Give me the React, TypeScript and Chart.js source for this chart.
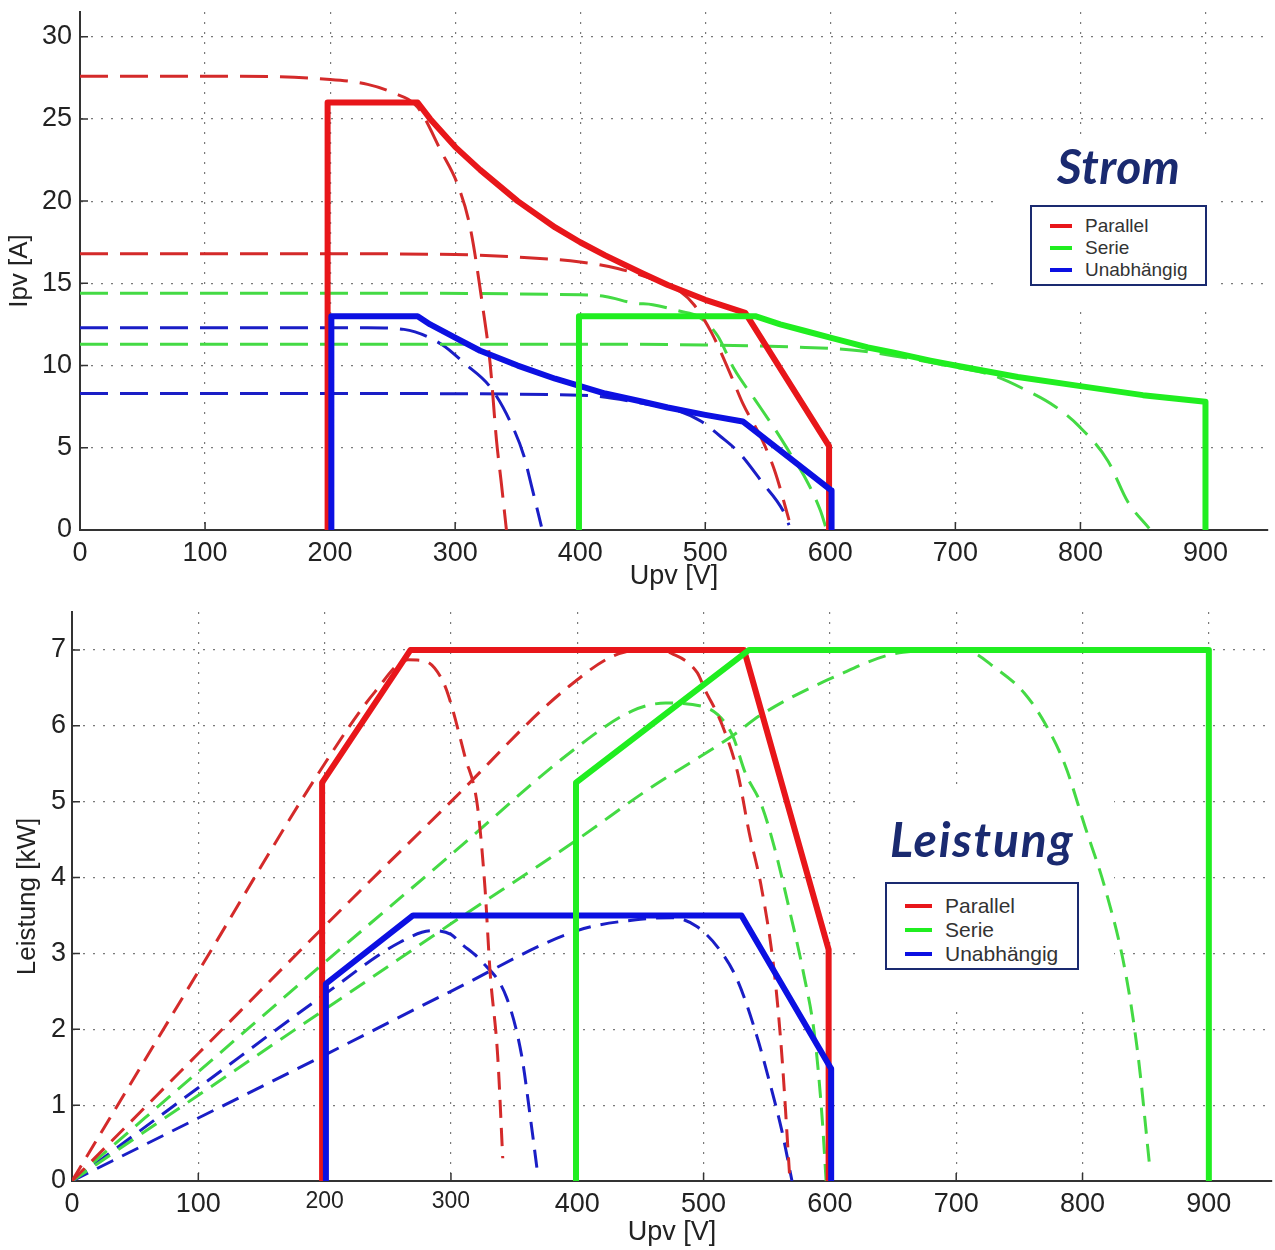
import React, { useEffect, useRef } from 'react';
import { Chart, registerables } from 'chart.js';

Chart.register(...registerables);

// ---------------- Upper chart: current Ipv [A] over Upv [V] ----------------
const curParallelU = [198, 198, 270, 280, 300, 320, 350, 380, 400, 420, 450, 470, 500, 532, 599, 599];
const curParallelI = [0, 26, 26, 25.0, 23.3, 21.9, 20.0, 18.4, 17.5, 16.7, 15.6, 14.9, 14.0, 13.2, 5.1, 0];
const curSerieU = [399, 399, 540, 560, 580, 600, 630, 650, 680, 700, 750, 800, 850, 900, 900];
const curSerieI = [0, 13, 13, 12.5, 12.1, 11.7, 11.1, 10.8, 10.3, 10.0, 9.3, 8.75, 8.2, 7.8, 0];
const curUnabhU = [201, 201, 270, 280, 300, 320, 350, 380, 400, 420, 450, 470, 500, 530, 601, 601];
const curUnabhI = [0, 13, 13, 12.5, 11.7, 10.9, 10.0, 9.2, 8.75, 8.3, 7.8, 7.45, 7.0, 6.6, 2.4, 0];

const ivRed1U = [0, 100, 200, 230, 250, 270, 289, 302, 312, 322, 328, 333, 337, 341];
const ivRed1I = [27.6, 27.6, 27.4, 27.1, 26.6, 25.7, 23.0, 21.0, 18.4, 13.6, 10.1, 5.5, 2.8, 0];
const ivRed2U = [0, 200, 300, 350, 400, 430, 460, 480, 491, 505, 520, 530, 546, 556, 567];
const ivRed2I = [16.8, 16.8, 16.75, 16.6, 16.3, 15.9, 15.2, 14.5, 13.7, 12.0, 9.5, 7.7, 5.4, 3.5, 0.6];
const ivGreen1U = [0, 200, 400, 420, 443, 458, 480, 494, 510, 523, 540, 556, 570, 579, 592, 597];
const ivGreen1I = [14.4, 14.4, 14.3, 14.2, 13.8, 13.7, 13.3, 13.0, 11.8, 9.8, 7.9, 6.1, 4.4, 3.3, 1.2, 0];
const ivGreen2U = [0, 200, 400, 500, 580, 617, 650, 700, 730, 754, 780, 799, 822, 838, 855];
const ivGreen2I = [11.3, 11.3, 11.3, 11.25, 11.1, 10.95, 10.6, 9.9, 9.4, 8.6, 7.5, 6.3, 4.2, 1.7, 0.1];
const ivBlue1U = [0, 200, 230, 259, 289, 308, 328, 344, 355, 361, 369];
const ivBlue1I = [12.3, 12.3, 12.3, 12.2, 11.3, 10.1, 8.7, 6.6, 4.5, 2.7, 0.2];
const ivBlue2U = [0, 200, 400, 450, 480, 497, 512, 527, 546, 562, 567];
const ivBlue2I = [8.3, 8.3, 8.2, 7.7, 7.2, 6.6, 5.7, 4.7, 2.85, 1.2, 0.3];

// ---------------- Lower chart: power Leistung [kW] over Upv [V] ----------------
const powParallelU = [198, 198, 268, 532, 599, 599];
const powParallelP = [0, 5.25, 7.0, 7.0, 3.05, 0];
const powSerieU = [399, 399, 536, 900, 900];
const powSerieP = [0, 5.25, 7.0, 7.0, 0];
const powUnabhU = [201, 201, 270, 530, 601, 601];
const powUnabhP = [0, 2.6, 3.5, 3.5, 1.48, 0];

const pvRed1U = [0, 100, 200, 240, 266, 280, 292, 298, 311, 321, 327, 331, 337, 341];
const pvRed1P = [0, 2.76, 5.5, 6.45, 6.87, 6.85, 6.64, 6.4, 5.6, 4.94, 3.85, 2.75, 1.65, 0.3];
const pvRed2U = [0, 100, 200, 300, 392, 437, 460, 475, 495, 501, 514, 527, 536, 546, 556, 562, 568];
const pvRed2P = [0, 1.68, 3.36, 5.0, 6.5, 6.97, 7.0, 6.95, 6.7, 6.48, 6.04, 5.38, 4.6, 3.85, 2.75, 1.65, 0.1];
const pvGreen1U = [0, 100, 200, 300, 400, 444, 470, 498, 511, 523, 533, 546, 556, 569, 579, 588, 594, 597];
const pvGreen1P = [0, 1.44, 2.88, 4.3, 5.72, 6.2, 6.3, 6.26, 6.15, 5.87, 5.38, 4.95, 4.4, 3.5, 2.75, 1.9, 0.8, 0];
const pvGreen2U = [0, 100, 200, 300, 400, 456, 523, 546, 603, 658, 706, 732, 754, 770, 786, 802, 818, 834, 844, 853];
const pvGreen2P = [0, 1.13, 2.26, 3.39, 4.5, 5.16, 5.87, 6.15, 6.64, 6.97, 7.0, 6.75, 6.43, 6.04, 5.49, 4.67, 3.85, 2.75, 1.65, 0.22];
const pvBlue1U = [0, 100, 200, 260, 285, 300, 308, 324, 344, 356, 363, 369];
const pvBlue1P = [0, 1.23, 2.46, 3.15, 3.3, 3.25, 3.13, 2.9, 2.42, 1.65, 0.82, 0.05];
const pvBlue2U = [0, 100, 200, 300, 400, 450, 475, 495, 514, 527, 542, 552, 562, 570];
const pvBlue2P = [0, 0.83, 1.66, 2.5, 3.3, 3.45, 3.47, 3.35, 3.02, 2.64, 1.92, 1.32, 0.66, 0];

const legendLabels = ['Parallel', 'Serie', 'Unabhängig'];

// ---------------- styles ----------------
const RED = '#e8161a';
const GREEN = '#20ee20';
const BLUE = '#0c10e2';
const RED_D = '#d42a2a';
const GREEN_D = '#44da44';
const BLUE_D = '#1a1ec6';
const NAVY = '#1a2a70';
const FONT = '"Liberation Sans", Arial, sans-serif';

const pts = (xs: number[], ys: number[]) => xs.map((x, i) => ({ x, y: ys[i] }));

const solid = (xs: number[], ys: number[], color: string) => ({
  data: pts(xs, ys),
  borderColor: color,
  borderWidth: 6,
  pointRadius: 0,
  tension: 0,
  borderJoinStyle: 'round' as const,
  fill: false,
});
const dashed = (xs: number[], ys: number[], color: string, dash: number[]) => ({
  data: pts(xs, ys),
  borderColor: color,
  borderWidth: 3,
  borderDash: dash,
  pointRadius: 0,
  cubicInterpolationMode: 'monotone' as const,
  fill: false,
});

const whiteBoxPlugin = {
  id: 'whiteBox',
  beforeDatasetsDraw(chart: any, _args: any, opts: any) {
    if (!opts || !opts.rect) return;
    const { ctx } = chart;
    const [x, y, w, h] = opts.rect;
    ctx.save();
    ctx.fillStyle = '#ffffff';
    ctx.fillRect(x, y, w, h);
    // inner tick marks
    const xs = chart.scales.x;
    const ys = chart.scales.y;
    ctx.strokeStyle = '#333';
    ctx.lineWidth = 1.5;
    ctx.beginPath();
    xs.ticks.forEach((t: any) => {
      const px = xs.getPixelForValue(t.value);
      ctx.moveTo(px, xs.top);
      ctx.lineTo(px, xs.top - 8);
    });
    ys.ticks.forEach((t: any) => {
      const py = ys.getPixelForValue(t.value);
      ctx.moveTo(ys.right, py);
      ctx.lineTo(ys.right + 8, py);
    });
    ctx.stroke();
    ctx.restore();
  },
};

type ChartProps = {
  width: number;
  height: number;
  datasets: any[];
  yMax: number;
  yStep: number;
  yTitle: string;
  yAxisWidth: number;
  xAxisHeight: number;
  padTop: number;
  padRight: number;
  yTitlePad: number;
  xTitlePad: number;
  xTickPad: number;
  yTickPad: number;
  smallXTicks: number[];
  box: number[];
};

function PvChart(p: ChartProps) {
  const ref = useRef<HTMLCanvasElement | null>(null);
  useEffect(() => {
    if (!ref.current) return;
    const tickFont = { family: FONT, size: 27 };
    const chart = new Chart(ref.current, {
      type: 'line',
      data: { datasets: p.datasets },
      plugins: [whiteBoxPlugin],
      options: {
        animation: false,
        responsive: false,
        devicePixelRatio: 1,
        layout: { padding: { top: p.padTop, right: p.padRight, left: 0, bottom: 0 } },
        plugins: {
          legend: { display: false },
          tooltip: { enabled: false },
          whiteBox: { rect: p.box },
        } as any,
        scales: {
          x: {
            type: 'linear',
            min: 0,
            max: 950,
            afterFit: (s: any) => {
              s.height = p.xAxisHeight;
              s.paddingLeft = 0;
              s.paddingRight = 0;
            },
            ticks: {
              stepSize: 100,
              includeBounds: false,
              autoSkip: false,
              maxRotation: 0,
              padding: p.xTickPad,
              color: '#222',
              font: (ctx: any) => ({
                family: FONT,
                size: ctx.tick && p.smallXTicks.includes(ctx.tick.value) ? 23 : 27,
              }),
            },
            grid: { color: '#7a7a7a', lineWidth: 1.2, drawTicks: false },
            border: { display: true, color: '#333', width: 2, dash: [2, 8] },
            title: {
              display: true,
              text: 'Upv [V]',
              color: '#222',
              font: { family: FONT, size: 27 },
              padding: { top: 0, bottom: p.xTitlePad },
            },
          },
          y: {
            type: 'linear',
            min: 0,
            max: p.yMax,
            afterFit: (s: any) => {
              s.width = p.yAxisWidth;
              s.paddingTop = 0;
              s.paddingBottom = 0;
            },
            ticks: {
              stepSize: p.yStep,
              includeBounds: false,
              padding: p.yTickPad,
              color: '#222',
              font: tickFont,
            },
            grid: { color: '#7a7a7a', lineWidth: 1.2, drawTicks: false },
            border: { display: true, color: '#333', width: 2, dash: [2, 8] },
            title: {
              display: true,
              text: p.yTitle,
              color: '#222',
              font: { family: FONT, size: 26 },
              padding: { top: p.yTitlePad, bottom: 0 },
            },
          },
        },
      },
    } as any);
    return () => chart.destroy();
  }, []);
  return (
    <canvas
      ref={ref}
      width={p.width}
      height={p.height}
      style={{ width: p.width, height: p.height, display: 'block' }}
    />
  );
}

function Legend(props: {
  left: number;
  top: number;
  width: number;
  height: number;
  fontSize: number;
  rowH: number;
  padTop: number;
  sampleW: number;
}) {
  const colors = [RED, GREEN, BLUE];
  return (
    <div
      style={{
        position: 'absolute',
        left: props.left,
        top: props.top,
        width: props.width,
        height: props.height,
        border: `2px solid ${NAVY}`,
        boxSizing: 'border-box',
        background: '#fff',
        paddingTop: props.padTop,
        paddingLeft: 18,
        fontFamily: FONT,
        fontSize: props.fontSize,
        color: '#333',
      }}
    >
      {legendLabels.map((lab, i) => (
        <div
          key={lab}
          style={{ display: 'flex', alignItems: 'center', height: props.rowH, lineHeight: `${props.rowH}px` }}
        >
          <span
            style={{
              display: 'inline-block',
              width: props.sampleW,
              height: 4,
              background: colors[i],
              marginRight: 13,
            }}
          />
          <span>{lab}</span>
        </div>
      ))}
    </div>
  );
}

const titleStyle = (left: number, top: number, size: number, spacing: number): React.CSSProperties => ({
  position: 'absolute',
  left,
  top,
  fontFamily: 'Lato, "Open Sans", sans-serif',
  fontWeight: 700,
  fontStyle: 'italic',
  fontSize: size,
  letterSpacing: spacing,
  lineHeight: 1,
  color: NAVY,
  whiteSpace: 'nowrap',
});

export default function App() {
  const topDash = [28, 12];
  const botDash = [18, 10];
  const topSets = [
    solid(curSerieU, curSerieI, GREEN),
    solid(curUnabhU, curUnabhI, BLUE),
    solid(curParallelU, curParallelI, RED),
    dashed(ivRed1U, ivRed1I, RED_D, topDash),
    dashed(ivRed2U, ivRed2I, RED_D, topDash),
    dashed(ivGreen1U, ivGreen1I, GREEN_D, topDash),
    dashed(ivGreen2U, ivGreen2I, GREEN_D, topDash),
    dashed(ivBlue1U, ivBlue1I, BLUE_D, topDash),
    dashed(ivBlue2U, ivBlue2I, BLUE_D, topDash),
  ];
  const botSets = [
    solid(powSerieU, powSerieP, GREEN),
    solid(powUnabhU, powUnabhP, BLUE),
    solid(powParallelU, powParallelP, RED),
    dashed(pvRed1U, pvRed1P, RED_D, botDash),
    dashed(pvRed2U, pvRed2P, RED_D, botDash),
    dashed(pvGreen1U, pvGreen1P, GREEN_D, botDash),
    dashed(pvGreen2U, pvGreen2P, GREEN_D, botDash),
    dashed(pvBlue1U, pvBlue1P, BLUE_D, botDash),
    dashed(pvBlue2U, pvBlue2P, BLUE_D, botDash),
  ];
  return (
    <div style={{ position: 'absolute', left: 0, top: 0, width: 1275, height: 1250, background: '#fff' }}>
      <div style={{ position: 'absolute', left: 0, top: 0 }}>
        <PvChart
          width={1275}
          height={600}
          datasets={topSets}
          yMax={31.5}
          yStep={5}
          yTitle="Ipv [A]"
          yAxisWidth={80}
          xAxisHeight={70}
          padTop={12}
          padRight={7}
          yTitlePad={4}
          xTitlePad={7}
          xTickPad={7}
          yTickPad={8}
          smallXTicks={[]}
          box={[1000, 140, 220, 165]}
        />
      </div>
      <div style={{ position: 'absolute', left: 0, top: 600 }}>
        <PvChart
          width={1275}
          height={650}
          datasets={botSets}
          yMax={7.5}
          yStep={1}
          yTitle="Leistung [kW]"
          yAxisWidth={72}
          xAxisHeight={69}
          padTop={12}
          padRight={3}
          yTitlePad={12}
          xTitlePad={1}
          xTickPad={7}
          yTickPad={6}
          smallXTicks={[200, 300]}
          box={[862, 187, 252, 224]}
        />
      </div>
      <div style={titleStyle(1057, 142, 48, 0.5)}>Strom</div>
      <Legend left={1030} top={205} width={177} height={81} fontSize={19} rowH={22} padTop={8} sampleW={22} />
      <div style={titleStyle(890, 815, 48, 1.8)}>Leistung</div>
      <Legend left={885} top={882} width={194} height={88} fontSize={21} rowH={24} padTop={10} sampleW={27} />
    </div>
  );
}
